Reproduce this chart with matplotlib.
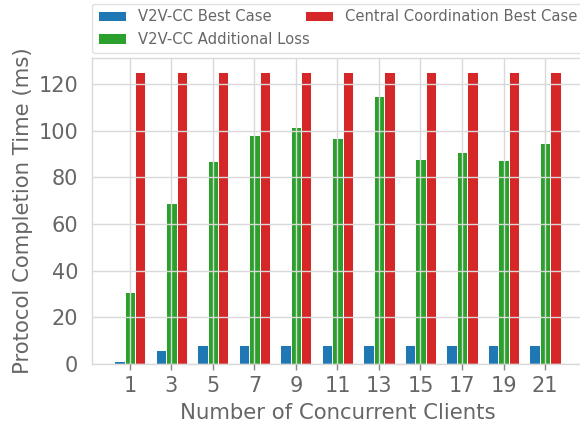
import numpy as np
import matplotlib
matplotlib.use("Agg")
import matplotlib.pyplot as plt

clients = [1, 3, 5, 7, 9, 11, 13, 15, 17, 19, 21]
best_case = [1.5, 6.1, 8.1, 8.2, 8.2, 8.1, 8.1, 8.1, 8.2, 8.2, 8.2]
additional_loss = [31.0, 69.2, 87.0, 98.2, 101.7, 96.8, 114.7, 87.7, 90.9, 87.3, 94.6]
central_best = [125] * len(clients)

text_color = "#666666"
grid_color = "#d9d9d9"

plt.rcParams["font.family"] = "DejaVu Sans"

fig = plt.figure(figsize=(5.8, 4.24), dpi=100)
ax = fig.add_axes([0.1586, 0.1415, 0.8464, 0.722])

x = np.arange(len(clients))
width = 0.25
ax.bar(x - width, best_case, width, color="tab:blue", edgecolor="white",
       linewidth=0.7, label="V2V-CC Best Case")
ax.bar(x, additional_loss, width, color="tab:green", edgecolor="white",
       linewidth=0.7, label="V2V-CC Additional Loss")
ax.bar(x + width, central_best, width, color="tab:red", edgecolor="white",
       linewidth=0.7, label="Central Coordination Best Case")

ax.set_xticks(x)
ax.set_xticklabels([str(c) for c in clients])
ax.set_yticks([0, 20, 40, 60, 80, 100, 120])

# grid sits on top of the bars in the original
ax.set_axisbelow(False)
ax.grid(True, color=grid_color, linewidth=1.0)
for spine in ax.spines.values():
    spine.set_color(grid_color)
    spine.set_linewidth(1.0)

ax.tick_params(axis="x", length=4.5, width=1, color="#888888", pad=4,
               labelsize=15, labelcolor=text_color)
ax.tick_params(axis="y", length=0, pad=10, labelsize=15, labelcolor=text_color)
ax.set_xlabel("Number of Concurrent Clients", fontsize=15.3, color=text_color,
              labelpad=5)
ax.set_ylabel("Protocol Completion Time (ms)", fontsize=15.3, color=text_color,
              labelpad=4)

leg = ax.legend(bbox_to_anchor=(0, 1.017, 1, 0.2), loc="lower left",
                mode="expand", borderaxespad=0, ncol=2, fontsize=10.6,
                handlelength=1.9, frameon=True)
leg.get_frame().set_edgecolor(grid_color)
for t in leg.get_texts():
    t.set_color(text_color)

fig.savefig("out.png", dpi=100)
